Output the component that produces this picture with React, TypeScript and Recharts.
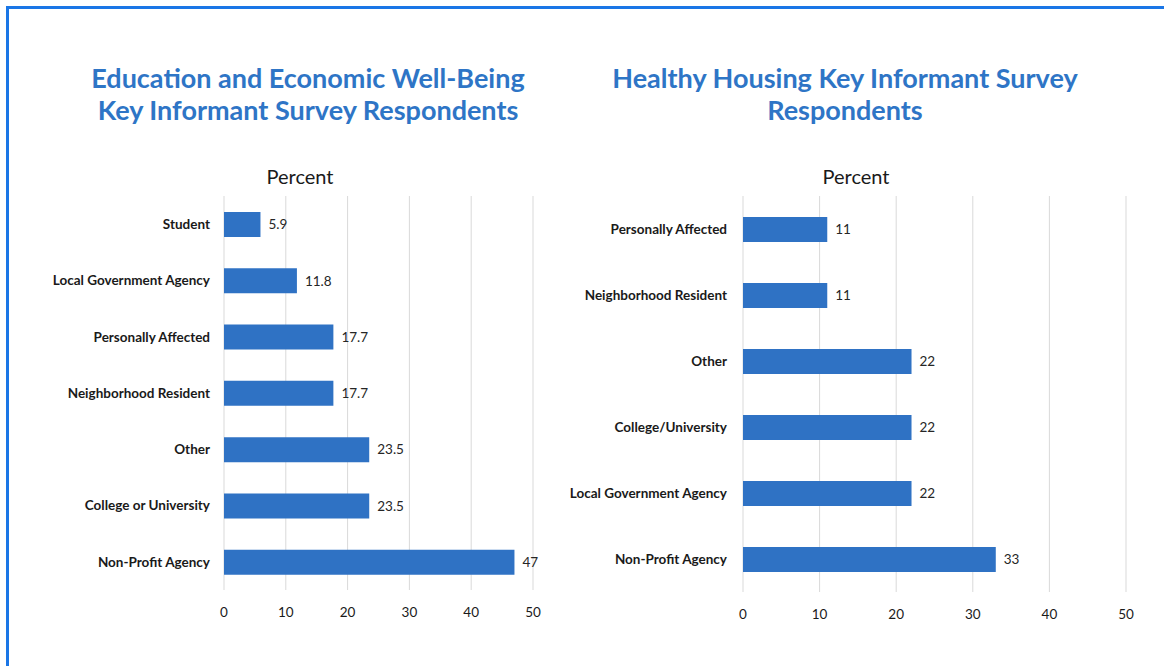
import { BarChart, Bar, XAxis, YAxis, CartesianGrid, LabelList } from "recharts";

const FONT = "Lato, 'Open Sans', sans-serif";
const BAR_COLOR = "#2f72c4";
const TITLE_COLOR = "#2e75c6";

const eduCategories = [
  "Student",
  "Local Government Agency",
  "Personally Affected",
  "Neighborhood Resident",
  "Other",
  "College or University",
  "Non-Profit Agency",
];
const eduValues = [5.9, 11.8, 17.7, 17.7, 23.5, 23.5, 47];

const housingCategories = [
  "Personally Affected",
  "Neighborhood Resident",
  "Other",
  "College/University",
  "Local Government Agency",
  "Non-Profit Agency",
];
const housingValues = [11, 11, 22, 22, 22, 33];

const xTicks = [0, 10, 20, 30, 40, 50];

const eduData = eduCategories.map((name, i) => ({ name, value: eduValues[i] }));
const housingData = housingCategories.map((name, i) => ({ name, value: housingValues[i] }));

function SurveyChart({
  data,
  width,
  height,
  yWidth,
  right,
  labelGap,
}: {
  data: { name: string; value: number }[];
  width: number;
  height: number;
  yWidth: number;
  right: number;
  labelGap: number;
}) {
  return (
    <BarChart
      layout="vertical"
      width={width}
      height={height}
      data={data}
      margin={{ top: 0, right, left: 0, bottom: 20 }}
      barCategoryGap="0%"
    >
      <CartesianGrid horizontal={false} stroke="#d9d9d9" />
      <XAxis
        type="number"
        domain={[0, 50]}
        ticks={xTicks}
        axisLine={false}
        tickLine={false}
        tickSize={0}
        tickMargin={17}
        height={30}
        tick={{ fontSize: 13.5, fill: "#1a1a1a", fontFamily: FONT }}
        interval={0}
      />
      <YAxis
        type="category"
        dataKey="name"
        width={yWidth}
        axisLine={false}
        tickLine={false}
        tickSize={0}
        tickMargin={labelGap}
        interval={0}
        tick={{ fontSize: 13.5, fill: "#1a1a1a", fontWeight: 700, fontFamily: FONT }}
      />
      <Bar dataKey="value" fill={BAR_COLOR} barSize={25} isAnimationActive={false}>
        <LabelList
          dataKey="value"
          position="right"
          offset={8}
          style={{ fontSize: 13.5, fill: "#262626", fontFamily: FONT }}
        />
      </Bar>
    </BarChart>
  );
}

const titleStyle: React.CSSProperties = {
  position: "absolute",
  textAlign: "center",
  color: TITLE_COLOR,
  fontFamily: FONT,
  fontWeight: 700,
  fontSize: 27,
  lineHeight: "32px",
};

const percentStyle: React.CSSProperties = {
  position: "absolute",
  textAlign: "center",
  color: "#1a1a1a",
  fontFamily: FONT,
  fontSize: 20,
  lineHeight: "24px",
};

export default function App() {
  return (
    <div
      style={{
        position: "absolute",
        left: 0,
        top: 0,
        width: 1164,
        height: 666,
        background: "#fff",
        overflow: "hidden",
      }}
    >
      <div
        style={{
          position: "absolute",
          left: 6,
          top: 6,
          width: 1200,
          height: 700,
          borderTop: "3px solid #1a76e6",
          borderLeft: "3px solid #1a76e6",
        }}
      />
      <div style={{ ...titleStyle, left: 38, width: 540, top: 62 }}>
        Education and Economic Well-Being
        <br />
        Key Informant Survey Respondents
      </div>
      <div style={{ ...titleStyle, left: 575, width: 540, top: 62 }}>
        Healthy Housing Key Informant Survey
        <br />
        Respondents
      </div>
      <div style={{ ...percentStyle, left: 200, width: 200, top: 164 }}>Percent</div>
      <div style={{ ...percentStyle, left: 756, width: 200, top: 164 }}>Percent</div>

      <div style={{ position: "absolute", left: 0, top: 196 }}>
        <SurveyChart data={eduData} width={560} height={444} yWidth={224} right={27} labelGap={14} />
      </div>
      <div style={{ position: "absolute", left: 560, top: 196 }}>
        <SurveyChart data={housingData} width={604} height={446} yWidth={183} right={38} labelGap={16} />
      </div>
    </div>
  );
}
